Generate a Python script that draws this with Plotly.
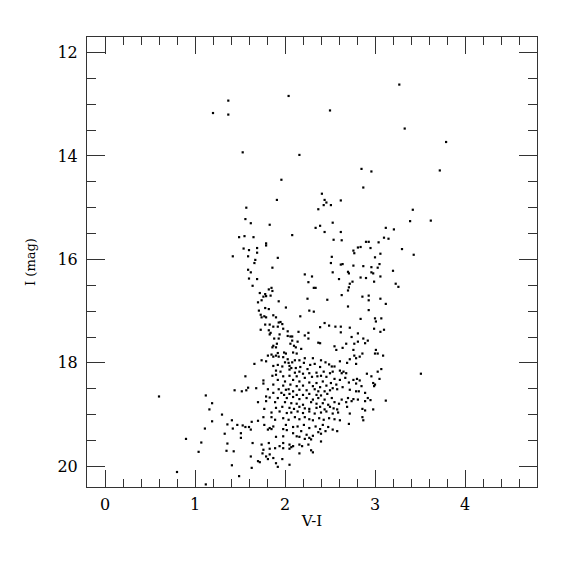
import plotly.graph_objects as go

# (V-I, I) pairs, grouped by region of the diagram
bright_stars = [
    (3.27, 12.62), (2.04, 12.84), (1.37, 12.93), (2.50, 13.12), (1.20, 13.17), (1.37, 13.20),
    (3.33, 13.47), (3.79, 13.73), (1.53, 13.93), (2.16, 13.98), (2.85, 14.25), (2.96, 14.30),
    (3.72, 14.28), (1.96, 14.46), (2.87, 14.61),
]

upper_branch = [
    (2.41, 14.73), (1.91, 14.85), (2.44, 14.85), (2.46, 14.90), (2.43, 14.95), (2.51, 14.95),
    (2.62, 14.86), (2.37, 15.03), (1.57, 15.00), (1.56, 15.22), (1.62, 15.30), (1.83, 15.33),
    (2.53, 15.29), (2.34, 15.39), (2.39, 15.35), (2.44, 15.47), (2.62, 15.47), (2.08, 15.53),
    (1.49, 15.57), (1.55, 15.55), (1.65, 15.57), (2.54, 15.62), (2.63, 15.63), (2.90, 15.66),
    (2.93, 15.66), (1.79, 15.69), (1.79, 15.73), (1.54, 15.79), (1.60, 15.82), (1.69, 15.78),
    (1.69, 15.87), (2.76, 15.83), (2.77, 15.88), (2.81, 15.77), (2.84, 15.76), (1.42, 15.94),
    (1.59, 15.94), (1.92, 15.97), (2.52, 15.95), (1.67, 16.01), (1.66, 16.07), (2.51, 16.07),
    (2.62, 16.10), (2.64, 16.09), (2.76, 16.12), (2.87, 16.13), (1.86, 16.16), (1.59, 16.20),
    (1.62, 16.25), (2.53, 16.25), (2.70, 16.24), (2.71, 16.27), (2.22, 16.29), (2.30, 16.33),
    (1.60, 16.37), (1.69, 16.38), (2.60, 16.38), (2.84, 16.35), (2.90, 16.36), (2.26, 16.44),
    (2.75, 16.43), (2.72, 16.47), (1.64, 16.51), (2.71, 16.54), (2.32, 16.55), (2.34, 16.55),
    (1.82, 16.58), (1.85, 16.55), (1.86, 16.61), (2.70, 16.60), (1.72, 16.65), (1.78, 16.67),
    (1.79, 16.71), (1.84, 16.70), (1.76, 16.72), (2.63, 16.69), (2.86, 16.72), (2.93, 16.70),
    (2.25, 16.76), (2.47, 16.78), (1.74, 16.79), (1.70, 16.83), (1.93, 16.81), (2.93, 16.79),
    (2.70, 16.91), (2.01, 16.93), (1.78, 16.94), (1.82, 16.96), (1.71, 16.99), (2.27, 16.99),
    (2.32, 17.01), (2.93, 16.98), (1.73, 17.07), (1.77, 17.10), (1.79, 17.12), (1.87, 17.08),
    (1.90, 17.12), (2.17, 17.10), (1.74, 17.12), (2.84, 17.15), (1.93, 17.22), (1.95, 17.21),
    (1.97, 17.25), (2.44, 17.23), (1.78, 17.26), (1.83, 17.26), (1.92, 17.30), (1.87, 17.30),
    (2.39, 17.31), (2.49, 17.28), (2.56, 17.30), (2.62, 17.30), (2.72, 17.32), (1.73, 17.36),
    (1.82, 17.37), (1.84, 17.42), (1.98, 17.34), (2.03, 17.39), (2.15, 17.40), (2.26, 17.42),
    (2.62, 17.41), (1.83, 17.45), (1.94, 17.45), (2.03, 17.48), (2.06, 17.49), (2.08, 17.49),
    (2.22, 17.47), (2.74, 17.50), (2.81, 17.43), (1.88, 17.53), (1.93, 17.53), (2.26, 17.53),
    (2.87, 17.53),
]

red_side = [
    (3.42, 15.04), (3.39, 15.26), (3.62, 15.25), (3.12, 15.39), (3.21, 15.42), (3.10, 15.58),
    (3.15, 15.60), (3.04, 15.67), (2.95, 15.78), (3.30, 15.80), (3.06, 15.89), (3.43, 15.91),
    (3.00, 15.96), (2.96, 16.15), (3.03, 16.16), (3.05, 16.09), (3.20, 16.22), (2.96, 16.25),
    (2.98, 16.27), (3.06, 16.33), (2.99, 16.43), (3.23, 16.47), (3.26, 16.53), (3.06, 16.76),
    (3.12, 16.86), (3.00, 17.14), (3.07, 17.14), (3.01, 17.20), (2.99, 17.34), (3.10, 17.36),
    (3.06, 17.40), (3.09, 17.86), (3.07, 18.12), (3.05, 18.31), (3.51, 18.21), (3.12, 18.73),
]

blue_side = [
    (1.66, 18.02), (1.56, 18.26), (1.44, 18.53), (1.52, 18.55), (1.57, 18.53), (1.59, 18.48),
    (1.68, 18.49), (0.60, 18.65), (1.12, 18.63), (1.19, 18.78), (1.16, 18.90), (1.70, 18.76),
    (1.30, 19.00), (1.19, 19.13), (1.36, 19.19), (1.41, 19.11), (1.47, 19.20), (1.53, 19.21),
    (1.56, 19.24), (1.60, 19.24), (1.63, 19.14), (1.62, 19.29), (1.42, 19.27), (1.70, 19.12),
    (1.11, 19.27), (1.33, 19.37), (1.51, 19.36), (1.51, 19.45), (0.90, 19.47), (1.07, 19.54),
    (1.36, 19.56), (1.64, 19.55), (1.04, 19.72), (1.35, 19.70), (1.43, 19.71), (1.62, 19.81),
    (1.70, 19.90), (1.41, 19.98), (1.63, 20.03), (0.80, 20.11), (1.49, 20.19), (1.12, 20.35),
]

dense_core = [
    (2.08, 17.57), (2.14, 17.59), (2.37, 17.61), (2.39, 17.62), (2.68, 17.63), (2.77, 17.63),
    (2.89, 17.62), (2.92, 17.57), (2.81, 17.59), (1.91, 17.63), (1.87, 17.67), (2.06, 17.63),
    (2.10, 17.67), (2.12, 17.70), (2.18, 17.73), (2.55, 17.68), (2.57, 17.75), (2.64, 17.71),
    (2.76, 17.75), (1.86, 17.70), (1.90, 17.70), (1.92, 17.81), (1.99, 17.80), (2.01, 17.82),
    (2.09, 17.80), (2.13, 17.82), (3.01, 17.75), (3.00, 17.82), (3.03, 17.82), (2.86, 17.82),
    (2.83, 17.88), (2.77, 17.86), (1.81, 17.86), (1.85, 17.84), (1.87, 17.88), (1.90, 17.86),
    (1.93, 17.88), (1.98, 17.89), (2.03, 17.93), (2.22, 17.91), (2.31, 17.91), (2.40, 17.95),
    (2.72, 17.93), (2.79, 17.91), (1.74, 17.95), (1.79, 17.97), (2.00, 17.99), (2.04, 18.00),
    (2.08, 17.99), (2.11, 17.95), (2.16, 17.95), (2.21, 18.00), (2.28, 18.04), (2.33, 18.02),
    (2.45, 17.99), (2.49, 18.03), (2.52, 18.07), (2.61, 17.97), (2.69, 18.00), (2.79, 18.02),
    (1.87, 18.06), (1.92, 18.04), (1.97, 18.07), (2.05, 18.06), (2.07, 18.10), (2.12, 18.10),
    (2.17, 18.08), (2.25, 18.12), (2.39, 18.08), (2.55, 18.07), (2.61, 18.15), (2.65, 18.17),
    (2.68, 18.20), (1.90, 18.15), (1.95, 18.17), (2.05, 18.13), (2.11, 18.19), (2.16, 18.17),
    (2.20, 18.21), (2.27, 18.20), (2.35, 18.19), (2.43, 18.17), (2.50, 18.20), (2.53, 18.17),
    (2.63, 18.20), (3.03, 18.17), (2.91, 18.21), (2.96, 18.26), (1.86, 18.25), (1.90, 18.23),
    (1.98, 18.26), (2.05, 18.25), (2.13, 18.26), (2.22, 18.29), (2.30, 18.27), (2.36, 18.26),
    (2.40, 18.25), (2.46, 18.27), (2.55, 18.31), (2.61, 18.33), (2.67, 18.29), (2.76, 18.33),
    (2.80, 18.31), (2.83, 18.34), (2.98, 18.39), (1.76, 18.34), (1.92, 18.33), (2.00, 18.36),
    (2.09, 18.33), (2.16, 18.36), (2.27, 18.38), (2.35, 18.39), (2.42, 18.36), (2.51, 18.39),
    (2.57, 18.42), (2.71, 18.38), (2.79, 18.40), (2.85, 18.45), (3.00, 18.42), (2.99, 18.45),
    (1.76, 18.40), (1.87, 18.42), (1.98, 18.44), (2.06, 18.42), (2.13, 18.45), (2.20, 18.44),
    (2.31, 18.45), (2.39, 18.47), (2.46, 18.44), (2.53, 18.49), (2.58, 18.51), (2.64, 18.47),
    (1.81, 18.51), (1.93, 18.51), (2.01, 18.52), (2.04, 18.51), (2.09, 18.55), (2.16, 18.52),
    (2.24, 18.53), (2.33, 18.51), (2.37, 18.55), (2.44, 18.55), (2.50, 18.53), (2.72, 18.52),
    (2.79, 18.55), (2.89, 18.58), (2.82, 18.55), (1.87, 18.58), (1.96, 18.58), (1.99, 18.62),
    (2.05, 18.60), (2.13, 18.62), (2.20, 18.62), (2.27, 18.60), (2.35, 18.62), (2.40, 18.63),
    (2.47, 18.60), (1.79, 18.65), (1.83, 18.67), (1.92, 18.68), (2.02, 18.68), (2.09, 18.66),
    (2.16, 18.70), (2.24, 18.68), (2.31, 18.71), (2.37, 18.68), (2.44, 18.71), (2.52, 18.68),
    (2.63, 18.71), (2.70, 18.68), (2.76, 18.70), (2.81, 18.71), (2.92, 18.68), (2.95, 18.72),
    (1.79, 18.74), (1.89, 18.76), (2.00, 18.76), (2.07, 18.78), (2.13, 18.79), (2.20, 18.81),
    (2.29, 18.76), (2.35, 18.79), (2.42, 18.78), (2.48, 18.81), (2.55, 18.76), (2.60, 18.79),
    (2.68, 18.76), (2.74, 18.74), (2.89, 18.74), (1.77, 18.89), (1.90, 18.87), (1.97, 18.85),
    (2.05, 18.87), (2.10, 18.89), (2.16, 18.85), (2.22, 18.88), (2.27, 18.89), (2.35, 18.87),
    (2.39, 18.85), (2.44, 18.90), (2.50, 18.85), (2.54, 18.88), (2.58, 18.90), (2.69, 18.85),
    (2.86, 18.89), (2.89, 18.92), (2.98, 18.90), (1.85, 18.96), (1.94, 18.94), (2.02, 18.97),
    (2.07, 18.96), (2.14, 18.94), (2.20, 18.97), (2.27, 18.94), (2.33, 18.98), (2.40, 18.96),
    (2.46, 18.94), (2.53, 18.98), (2.59, 18.96), (2.72, 18.98), (1.76, 19.05), (1.85, 19.05),
    (1.89, 19.10), (1.98, 19.07), (2.04, 19.10), (2.11, 19.05), (2.16, 19.09), (2.22, 19.05),
    (2.27, 19.09), (2.31, 19.11), (2.38, 19.07), (2.43, 19.10), (2.49, 19.07), (2.55, 19.09),
    (2.61, 19.11), (2.86, 19.05), (2.87, 19.11), (1.77, 19.20), (1.83, 19.26), (1.87, 19.23),
    (1.98, 19.28), (2.01, 19.20), (2.09, 19.24), (2.14, 19.23), (2.21, 19.20), (2.27, 19.26),
    (2.34, 19.23), (2.39, 19.28), (2.42, 19.20), (2.48, 19.24), (2.53, 19.29), (2.58, 19.32),
    (2.71, 19.18), (1.81, 19.29), (1.85, 19.28), (2.02, 19.30), (2.09, 19.36), (2.18, 19.32),
    (2.24, 19.39), (2.27, 19.45), (2.31, 19.41), (2.37, 19.34), (2.40, 19.37), (2.45, 19.32),
    (1.90, 19.43), (1.98, 19.42), (2.13, 19.42), (2.16, 19.43), (2.22, 19.47), (2.29, 19.48),
    (1.74, 19.58), (1.82, 19.55), (1.89, 19.65), (1.94, 19.61), (1.98, 19.55), (2.05, 19.58),
    (2.07, 19.63), (2.16, 19.58), (2.19, 19.61), (2.26, 19.58), (2.40, 19.52), (1.76, 19.68),
    (1.83, 19.66), (1.98, 19.65), (2.05, 19.66), (2.09, 19.61), (2.29, 19.69), (2.31, 19.73),
    (1.75, 19.75), (1.79, 19.81), (1.83, 19.77), (1.87, 19.84), (1.97, 19.86), (2.16, 19.75),
    (1.72, 19.92), (1.81, 19.86), (1.90, 19.94), (2.05, 19.97), (1.92, 20.01),
]

stars = bright_stars + upper_branch + red_side + blue_side + dense_core
vi = [s[0] for s in stars]
imag = [s[1] for s in stars]

x_range = [-0.2, 4.8]
y_range = [20.4, 11.7]

fig = go.Figure(
    go.Scatter(
        x=vi, y=imag, mode="markers",
        marker=dict(symbol="square", size=2.2, color="black", line=dict(width=0)),
        hoverinfo="skip",
    )
)

axis_common = dict(
    showgrid=False, zeroline=False, showline=True, linecolor="#333", linewidth=1,
    mirror="allticks", ticks="inside", tickcolor="#333", tickwidth=1,
    tickfont=dict(family="DejaVu Serif", size=16, color="black"),
)

fig.update_layout(
    width=575, height=575,
    margin=dict(l=79, r=46, t=29, b=96),
    paper_bgcolor="white", plot_bgcolor="white",
    showlegend=False,
    font=dict(family="DejaVu Serif", color="black"),
    xaxis=dict(
        range=x_range, tick0=0, dtick=1, ticklen=17, ticklabelstandoff=3,
        minor=dict(dtick=0.2, ticklen=8, ticks="inside", tickcolor="#333", tickwidth=1),
        title=dict(text="V-I", font=dict(family="DejaVu Serif", size=15, color="black"), standoff=2),
        **axis_common,
    ),
    yaxis=dict(
        range=y_range, tick0=0, dtick=2, ticklen=18, ticklabelstandoff=5,
        minor=dict(dtick=0.5, ticklen=9, ticks="inside", tickcolor="#333", tickwidth=1),
        title=dict(text="I (mag)", font=dict(family="DejaVu Serif", size=13, color="black"), standoff=18),
        **axis_common,
    ),
)

fig.write_html("out.html")
